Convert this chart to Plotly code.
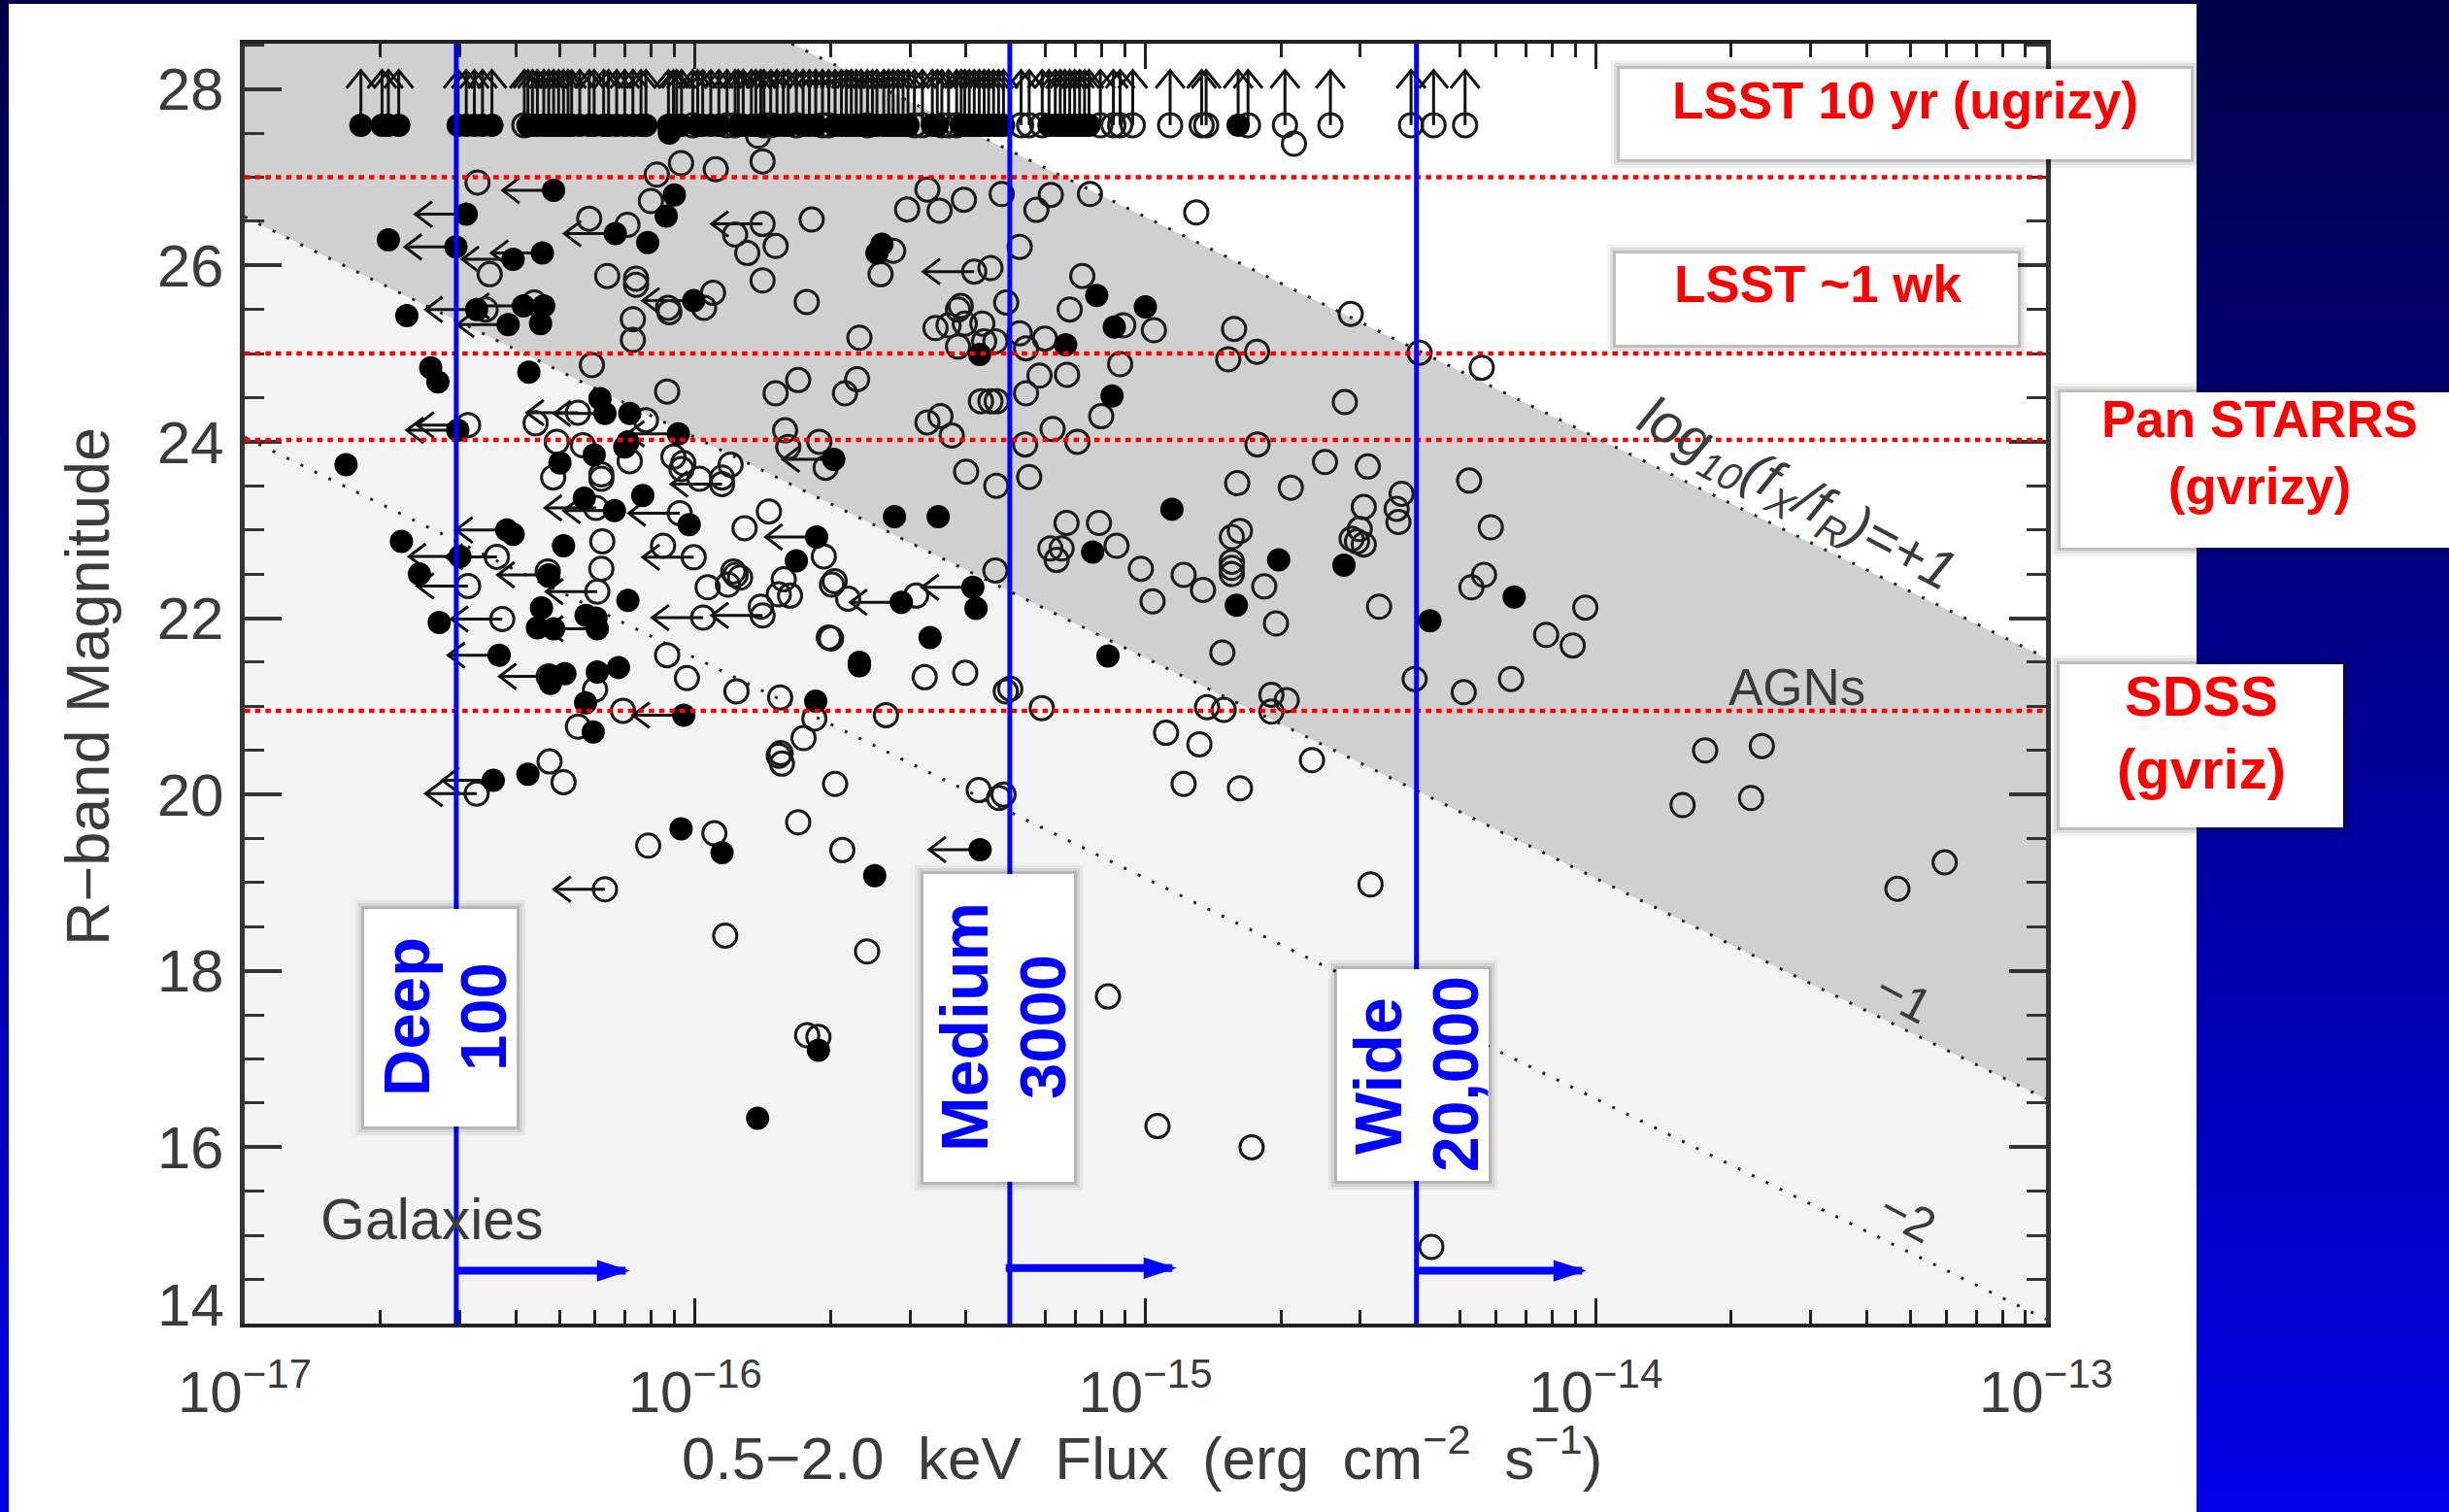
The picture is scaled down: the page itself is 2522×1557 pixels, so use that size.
import plotly.graph_objects as go

W, H = 2522, 1557
FONT = "Liberation Sans"
INK = "#3c3c3c"
BLUE = "#0000ff"
RED = "#ff0000"

# (log10 flux, R magnitude)
OPEN = [
 (-16.483,26.94),(-16.235,26.53),(-16.15,26.46),(-16.085,27.03),(-16.031,27.16),(-15.954,27.09),(-15.85,27.18),
 (-15.86,27.47),(-16.098,26.73),(-15.911,26.35),(-15.821,26.22),(-15.884,26.14),(-15.741,26.52),(-15.85,25.83),
 (-15.752,25.585),(-16.195,25.88),(-16.131,25.85),(-16.131,25.78),(-15.96,25.69),(-15.98,25.52),(-16.057,25.47),
 (-16.06,25.52),(-16.138,25.39),(-16.138,25.155),(-16.456,25.9),(-16.465,25.5),(-16.357,25.58),(-16.229,24.87),
 (-16.062,24.57),(-16.109,24.245),(-16.354,24.21),(-16.307,24.0),(-16.249,23.96),(-16.145,23.78),(-16.315,23.595),
 (-16.208,23.63),(-16.208,23.58),(-16.048,23.83),(-16.026,23.76),(-16.03,23.69),(-15.99,23.58),(-15.921,23.74),
 (-15.94,23.595),(-15.821,24.55),(-15.771,24.70),(-15.8,24.13),(-15.793,23.94),(-15.724,24.0),(-15.71,23.705),
 (-15.836,23.21),(-15.89,23.02),(-16.206,22.87),(-16.208,22.56),(-16.071,22.82),(-16.327,22.53),(-15.854,22.13),
 (-15.972,22.35),(-15.927,22.38),(-15.915,22.53),(-15.9,22.46),(-15.91,22.49),(-15.803,22.44),(-15.814,22.27),
 (-15.789,22.255),(-15.714,22.70),(-15.696,22.38),(-15.69,22.42),(-15.703,21.78),(-16.325,21.34),(-16.222,21.19),
 (-16.16,20.95),(-16.26,20.77),(-16.062,21.58),(-16.018,21.32),(-15.908,21.17),(-15.811,21.10),(-15.735,20.86),
 (-15.759,20.64),(-15.814,20.44),(-15.807,20.35),(-15.81,20.47),(-15.689,20.12),(-15.771,19.685),(-16.323,20.375),
 (-16.292,20.14),(-15.957,19.56),(-16.104,19.42),(-15.673,19.37),(-15.37,20.05),(-15.325,19.96),(-15.315,20.0),
 (-15.933,18.4),(-15.618,18.22),(-15.751,17.27),(-15.726,17.25),(-15.083,17.71),(-14.973,16.24),(-14.764,16.0),
 (-14.365,14.87),(-14.5,18.98),(-13.33,18.93),(-13.225,19.23),(-13.807,19.88),(-13.655,19.96),(-13.757,20.5),
 (-13.631,20.55),(-14.63,20.39),(-14.915,20.12),(-14.79,20.07),(-14.954,20.70),(-14.88,20.57),(-15.23,20.98),
 (-15.3,21.2),(-14.863,20.99),(-14.826,20.96),(-14.72,21.13),(-14.686,21.07),(-14.72,20.94),(-14.829,21.61),
 (-14.544,25.45),(-14.391,25.01),(-14.253,24.84),(-14.557,24.45),(-14.601,23.77),(-14.506,23.72),(-14.677,23.48),
 (-14.281,23.56),(-14.431,23.41),(-14.442,23.24),(-14.438,23.09),(-14.515,23.26),(-14.524,23.01),(-14.542,22.90),
 (-14.515,22.835),(-14.53,22.87),(-14.233,23.03),(-14.248,22.49),(-14.276,22.35),(-14.023,22.12),(-14.11,21.81),
 (-14.051,21.69),(-14.481,22.13),(-14.71,21.94),(-14.736,22.36),(-14.402,21.31),(-14.293,21.16),(-14.188,21.31),
 (-15.484,26.86),(-15.529,26.635),(-15.457,26.62),(-15.403,26.745),(-15.319,26.81),(-15.242,26.63),(-15.21,26.8),
 (-15.123,26.81),(-14.887,26.6),(-15.635,25.18),(-15.56,26.165),(-15.588,25.9),(-15.279,26.21),(-15.344,25.97),
 (-15.14,25.88),(-15.168,25.50),(-14.981,25.265),(-15.049,25.32),(-15.309,25.58),(-15.416,25.50),(-15.41,25.54),
 (-15.466,25.29),(-15.437,25.32),(-15.401,25.34),(-15.362,25.34),(-15.416,25.08),(-15.358,25.14),(-15.333,25.14),
 (-15.279,25.23),(-15.265,25.06),(-15.223,25.17),(-14.803,25.28),(-14.752,25.02),(-14.816,24.935),(-15.056,24.88),
 (-15.235,24.75),(-15.174,24.76),(-15.265,24.55),(-15.098,24.29),(-15.206,24.145),(-15.151,24.0),(-15.267,23.97),
 (-15.365,24.46),(-15.344,24.46),(-15.33,24.46),(-15.484,24.22),(-15.455,24.29),(-15.43,24.07),(-15.64,24.71),
 (-15.667,24.55),(-14.751,23.97),(-15.398,23.66),(-15.331,23.50),(-15.258,23.60),(-14.796,23.53),(-15.175,23.08),
 (-15.103,23.08),(-15.064,22.82),(-15.211,22.79),(-15.186,22.79),(-15.197,22.66),(-15.01,22.56),(-14.915,22.49),
 (-14.872,22.32),(-14.984,22.19),(-14.79,22.99),(-14.808,22.92),(-14.808,22.64),(-14.808,22.57),(-14.808,22.5),
 (-15.333,22.54),(-15.509,22.255),(-15.66,22.22),(-15.698,21.77),(-15.49,21.33),(-15.4,21.38),(-15.31,21.17),
 (-15.576,20.9),(-14.67,27.38),
]
FILLED = [
 (-16.681,26.29),(-16.105,26.26),(-16.046,26.8),(-16.064,26.56),(-16.64,25.43),(-16.336,25.54),(-16.343,25.34),
 (-16.587,24.84),(-16.571,24.68),(-16.369,24.79),(-16.211,24.49),(-16.145,24.32),(-16.156,23.94),(-16.149,24.0),
 (-16.224,23.85),(-16.3,23.76),(-16.775,23.74),(-16.246,23.36),(-16.116,23.39),(-16.013,23.06),(-16.404,22.95),
 (-16.652,22.87),(-16.292,22.82),(-16.325,22.475),(-16.612,22.50),(-16.149,22.2),(-16.341,22.115),(-16.35,21.89),
 (-16.314,21.88),(-16.242,22.03),(-16.22,22.0),(-16.568,21.95),(-15.775,22.65),(-16.289,21.37),(-16.321,21.26),
 (-16.217,21.39),(-16.17,21.44),(-16.243,21.04),(-16.226,20.71),(-15.732,21.06),(-16.371,20.23),(-16.031,19.61),
 (-15.94,19.34),(-15.601,19.08),(-15.726,17.1),(-15.861,16.33),(-15.083,21.57),(-14.704,22.66),(-14.559,22.60),
 (-14.181,22.24),(-14.368,21.97),(-15.585,26.24),(-15.596,26.14),(-15.108,25.66),(-15.0,25.53),(-15.069,25.30),
 (-15.368,24.99),(-15.177,25.1),(-15.074,24.52),(-15.557,23.15),(-15.46,23.15),(-14.941,23.235),(-15.117,22.75),
 (-14.798,22.145),(-15.376,22.11),(-15.478,21.78),(-15.635,21.5),(-15.635,21.46),(-16.057,27.5),
]
OPEN_LIMIT = [
 (-15.85,26.47),(-16.26,24.33),(-16.504,24.19),(-15.94,23.52),(-16.22,23.25),(-16.034,23.19),(-16.003,22.69),
 (-16.44,22.695),(-16.504,22.365),(-16.217,22.30),(-16.428,21.99),(-15.982,22.005),(-15.85,22.03),(-16.485,20.01),
 (-16.2,18.925),(-15.38,25.93),
]
FILLED_LIMIT = [
 (-16.314,26.85),(-16.508,26.58),(-16.531,26.21),(-16.339,26.14),(-16.404,26.07),(-16.177,26.36),(-16.003,25.6),
 (-16.485,25.5),(-16.381,25.54),(-16.415,25.33),(-16.2,24.32),(-16.527,24.13),(-16.037,24.09),(-15.692,23.8),
 (-16.179,23.22),(-15.73,22.92),(-16.418,23.0),(-16.522,22.70),(-16.325,22.49),(-16.217,21.88),(-16.435,21.58),
 (-16.321,21.34),(-16.025,20.9),(-16.448,20.16),(-15.367,19.375),(-15.383,22.35),(-15.542,22.18),
]
TOP_R = 27.59
TOP_OPEN = [
 -16.379,-16.005,-15.929,-15.911,-15.847,-15.832,-15.775,-15.717,-15.703,-15.617,-15.513,-15.495,-15.452,-15.437,
 -15.419,-15.276,-15.258,-15.229,-15.1,-15.071,-15.056,-15.028,-14.945,-14.875,-14.865,-14.772,-14.69,-14.589,
 -14.41,-14.36,-14.29,
]
TOP_FILLED = [
 -16.742,-16.695,-16.681,-16.658,-16.526,-16.508,-16.49,-16.472,-16.451,-16.371,-16.361,-16.35,-16.336,-16.325,
 -16.314,-16.303,-16.292,-16.282,-16.274,-16.256,-16.235,-16.224,-16.203,-16.192,-16.174,-16.156,-16.138,-16.12,
 -16.109,-16.059,-16.048,-16.041,-16.03,-15.994,-15.983,-15.965,-15.947,-15.904,-15.893,-15.875,-15.865,-15.854,
 -15.818,-15.804,-15.793,-15.76,-15.746,-15.732,-15.689,-15.675,-15.664,-15.653,-15.642,-15.631,-15.606,-15.596,
 -15.581,-15.57,-15.56,-15.549,-15.538,-15.527,-15.473,-15.462,-15.409,-15.401,-15.391,-15.38,-15.369,-15.358,
 -15.348,-15.337,-15.326,-15.315,-15.214,-15.2,-15.189,-15.179,-15.168,-15.157,-15.146,-15.135,-15.125,-14.794,
]
# log10(fx/fR) reference lines: R at flux 1e-17 and at 1e-13
LINE_P1 = (31.55, 21.55)
LINE_M1 = (26.55, 16.55)
LINE_M2 = (24.05, 14.05)
XMIN, XMAX = -17, -13
YMIN, YMAX = 14.0, 28.514
DEPTH_R = [27.0, 25.0, 24.02, 20.95]
SURVEY_FLUX = [2.95e-17, 5e-16, 4e-15]
SURVEY_ARROWS = [(-16.53, -16.144, 14.6), (-15.31, -14.93, 14.63), (-14.398, -14.02, 14.6)]
Y_TICKS = [16, 18, 20, 22, 24, 26, 28]
X_EXP = [-17, -16, -15, -14, -13]


def f(v):
    return 10.0 ** v


def px(x):
    return x / W


def py(y):
    return 1 - y / H


fig = go.Figure()

# regions
def crossing(line, r):
    return XMIN + (line[0] - r) / 2.5


x_top = crossing(LINE_P1, YMAX)
fig.add_trace(go.Scatter(
    x=[f(v) for v in [x_top, XMAX, XMAX, XMIN, XMIN, x_top]],
    y=[YMAX, LINE_P1[1], LINE_M1[1], LINE_M1[0], YMAX, YMAX],
    mode="none", fill="toself", fillcolor="#d0d0d0", hoverinfo="skip", showlegend=False))
fig.add_trace(go.Scatter(
    x=[f(v) for v in [x_top, XMAX, XMAX, x_top]],
    y=[YMAX, LINE_P1[1], YMAX, YMAX],
    mode="none", fill="toself", fillcolor="#ffffff", hoverinfo="skip", showlegend=False))
for ln in (LINE_P1, LINE_M1, LINE_M2):
    x0 = XMIN if ln[0] <= YMAX else x_top
    y0 = ln[0] if ln[0] <= YMAX else YMAX
    fig.add_trace(go.Scatter(
        x=[f(x0), f(XMAX)], y=[y0, ln[1]], mode="lines",
        line=dict(color="#222222", width=3, dash="3px,13px"), hoverinfo="skip", showlegend=False))

# limit arrows
LEFT_LEN, HEAD_DX, HEAD_DY = 0.113, 0.037, 0.143
UP_LEN, UP_HEAD_DY, UP_HEAD_DX = 0.62, 0.2, 0.032
ax, ay = [], []
for lx, r in OPEN_LIMIT + FILLED_LIMIT:
    tip = lx - LEFT_LEN
    ax += [f(lx), f(tip), None, f(tip + HEAD_DX), f(tip), f(tip + HEAD_DX), None]
    ay += [r, r, None, r + HEAD_DY, r, r - HEAD_DY, None]
for lx in TOP_OPEN + TOP_FILLED:
    tip = TOP_R + UP_LEN
    ax += [f(lx), f(lx), None, f(lx - UP_HEAD_DX), f(lx), f(lx + UP_HEAD_DX), None]
    ay += [TOP_R, tip, None, tip - UP_HEAD_DY, tip, tip - UP_HEAD_DY, None]
fig.add_trace(go.Scatter(x=ax, y=ay, mode="lines", line=dict(color="#111111", width=3),
                         hoverinfo="skip", showlegend=False, connectgaps=False))

# points
open_pts = OPEN + OPEN_LIMIT + [(v, TOP_R) for v in TOP_OPEN]
fill_pts = FILLED + FILLED_LIMIT + [(v, TOP_R) for v in TOP_FILLED]
fig.add_trace(go.Scatter(
    x=[f(p[0]) for p in open_pts], y=[p[1] for p in open_pts], mode="markers",
    marker=dict(symbol="circle-open", size=24, color="#1a1a1a", line=dict(color="#1a1a1a", width=3)),
    name="Unidentified", showlegend=False))
fig.add_trace(go.Scatter(
    x=[f(p[0]) for p in fill_pts], y=[p[1] for p in fill_pts], mode="markers",
    marker=dict(symbol="circle", size=24, color="#000000"),
    name="Identified", showlegend=False))

# survey reach arrows
for x0, x1, r in SURVEY_ARROWS:
    fig.add_trace(go.Scatter(x=[f(x0), f(x1 - 0.01)], y=[r, r], mode="lines",
                             line=dict(color=BLUE, width=8), hoverinfo="skip", showlegend=False))
    fig.add_trace(go.Scatter(x=[f(x1)], y=[r], mode="markers",
                             marker=dict(symbol="arrow", angle=90, size=36, color=BLUE),
                             hoverinfo="skip", showlegend=False))

shapes = []
# page background
BANDS = 80
for i in range(BANDS):
    t = i / (BANDS - 1)
    col = f"rgb(0,0,{int(72 + t * 158)})"
    y0, y1 = H * i / BANDS, H * (i + 1) / BANDS + 1
    shapes.append(dict(type="rect", xref="paper", yref="paper", x0=px(2262), x1=1,
                       y0=py(y1), y1=py(y0), fillcolor=col, line_width=0, layer="below"))
    shapes.append(dict(type="rect", xref="paper", yref="paper", x0=0, x1=px(9),
                       y0=py(y1), y1=py(y0), fillcolor=col, line_width=0, layer="below"))
shapes.append(dict(type="rect", xref="paper", yref="paper", x0=0, x1=px(2262), y0=py(4), y1=1,
                   fillcolor="rgb(0,0,72)", line_width=0, layer="below"))

# depth and survey lines
for r in DEPTH_R:
    shapes.append(dict(type="line", xref="x", yref="y", x0=f(XMIN), x1=f(XMAX), y0=r, y1=r,
                       line=dict(color=RED, width=4.5, dash="5.5px,5.17px"), layer="above"))
for fx in SURVEY_FLUX:
    shapes.append(dict(type="line", xref="x", yref="y", x0=fx, x1=fx, y0=YMIN, y1=YMAX,
                       line=dict(color=BLUE, width=5), layer="above"))


def box(x0, y0, x1, y1):
    for grow, alpha in ((9, .05), (6, .08), (3, .14)):
        shapes.append(dict(type="rect", xref="paper", yref="paper",
                           x0=px(x0 - grow), x1=px(x1 + grow), y0=py(y1 + grow), y1=py(y0 - grow),
                           fillcolor=f"rgba(0,0,0,{alpha})", line_width=0, layer="above"))
    shapes.append(dict(type="rect", xref="paper", yref="paper", x0=px(x0), x1=px(x1),
                       y0=py(y1), y1=py(y0), fillcolor="#ffffff", line_width=0, layer="above"))


box(1668, 71, 2256, 164)
box(1664, 261, 2078, 355)
box(2122, 404, 2530, 564)
box(2121, 684, 2413, 852)
box(375, 936, 532, 1160)
box(951, 900, 1106, 1217)
box(1377, 998, 1533, 1216)

ann = []


def label(text, x, y, size, color=INK, bold=False, angle=0, family=FONT, italic=False):
    ann.append(dict(text=text, xref="paper", yref="paper", x=px(x), y=py(y), xanchor="center",
                    yanchor="middle", showarrow=False, textangle=angle,
                    font=dict(family=family, size=size, color=color,
                              weight="bold" if bold else "normal",
                              style="italic" if italic else "normal")))


label("LSST 10 yr (ugrizy)", 1962, 103, 53, RED, True)
label("LSST ~1 wk", 1872, 293, 53, RED, True)
label("Pan STARRS<br>(gvrizy)", 2327, 466, 53, RED, True)
label("SDSS<br>(gvriz)", 2267, 754, 58, RED, True)
label("Deep", 418, 1047, 67, BLUE, True, -90)
label("100", 497, 1047, 67, BLUE, True, -90)
label("Medium", 993, 1058, 68, BLUE, True, -90)
label("3000", 1073, 1058, 67, BLUE, True, -90)
label("Wide", 1419, 1108, 68, BLUE, True, -90)
label("20,000", 1499, 1106, 66, BLUE, True, -90)
label("Galaxies", 445, 1256, 59)
label("AGNs", 1851, 708, 53)
label("log<sub>10</sub>(f<sub>X</sub>/f<sub>R</sub>)=+1", 1850, 511, 57, angle=28, italic=True)
label("\u22121", 1960, 1027, 50, angle=28)
label("\u22122", 1964, 1253, 50, angle=28)
label("14", 196, 1343, 62)
label("R\u2212band Magnitude", 90, 707, 63, angle=-90)
label("0.5\u22122.0\u00a0\u00a0keV\u00a0\u00a0Flux\u00a0\u00a0(erg\u00a0\u00a0cm<sup>\u22122</sup>\u00a0\u00a0s<sup>\u22121</sup>)",
      1176, 1497, 62)

fig.update_layout(
    template="none",
    width=W, height=H, autosize=False,
    margin=dict(l=0, r=0, t=0, b=0, pad=0),
    paper_bgcolor="#ffffff", plot_bgcolor="#f3f3f3",
    showlegend=False, shapes=shapes, annotations=ann,
    font=dict(family=FONT, color=INK),
)
fig.update_xaxes(
    type="log", range=[XMIN, XMAX], domain=[px(252), px(2107)], automargin=False,
    tickmode="array", tickvals=[f(e) for e in X_EXP],
    ticktext=[f"10<sup>\u2212{abs(e)}</sup>" for e in X_EXP],
    ticks="inside", ticklen=26, tickwidth=3, tickcolor="#222222",
    tickfont=dict(family=FONT, size=60, color=INK), ticklabelstandoff=15,
    showline=True, linewidth=4, linecolor="#222222", mirror="allticks",
    showgrid=False, zeroline=False,
    minor=dict(tickmode="array", tickvals=[d * f(e) for e in X_EXP[:-1] for d in range(2, 10)],
               ticks="inside", ticklen=14, tickwidth=3, tickcolor="#222222", showgrid=False),
)
fig.update_yaxes(
    range=[YMIN, YMAX], domain=[py(1363), py(45)], automargin=False,
    tickmode="array", tickvals=Y_TICKS, ticktext=[str(v) for v in Y_TICKS],
    ticks="inside", ticklen=38, tickwidth=4, tickcolor="#333333",
    tickfont=dict(family=FONT, size=62, color=INK), ticklabelstandoff=4,
    showline=True, linewidth=5, linecolor="#333333", mirror="allticks",
    showgrid=False, zeroline=False,
    minor=dict(dtick=0.5, ticks="inside", ticklen=20, tickwidth=3, tickcolor="#333333", showgrid=False),
)

fig.write_html("out.html", config=dict(displayModeBar=False),
               post_script="document.body.style.margin='0';document.body.style.overflow='hidden';")
